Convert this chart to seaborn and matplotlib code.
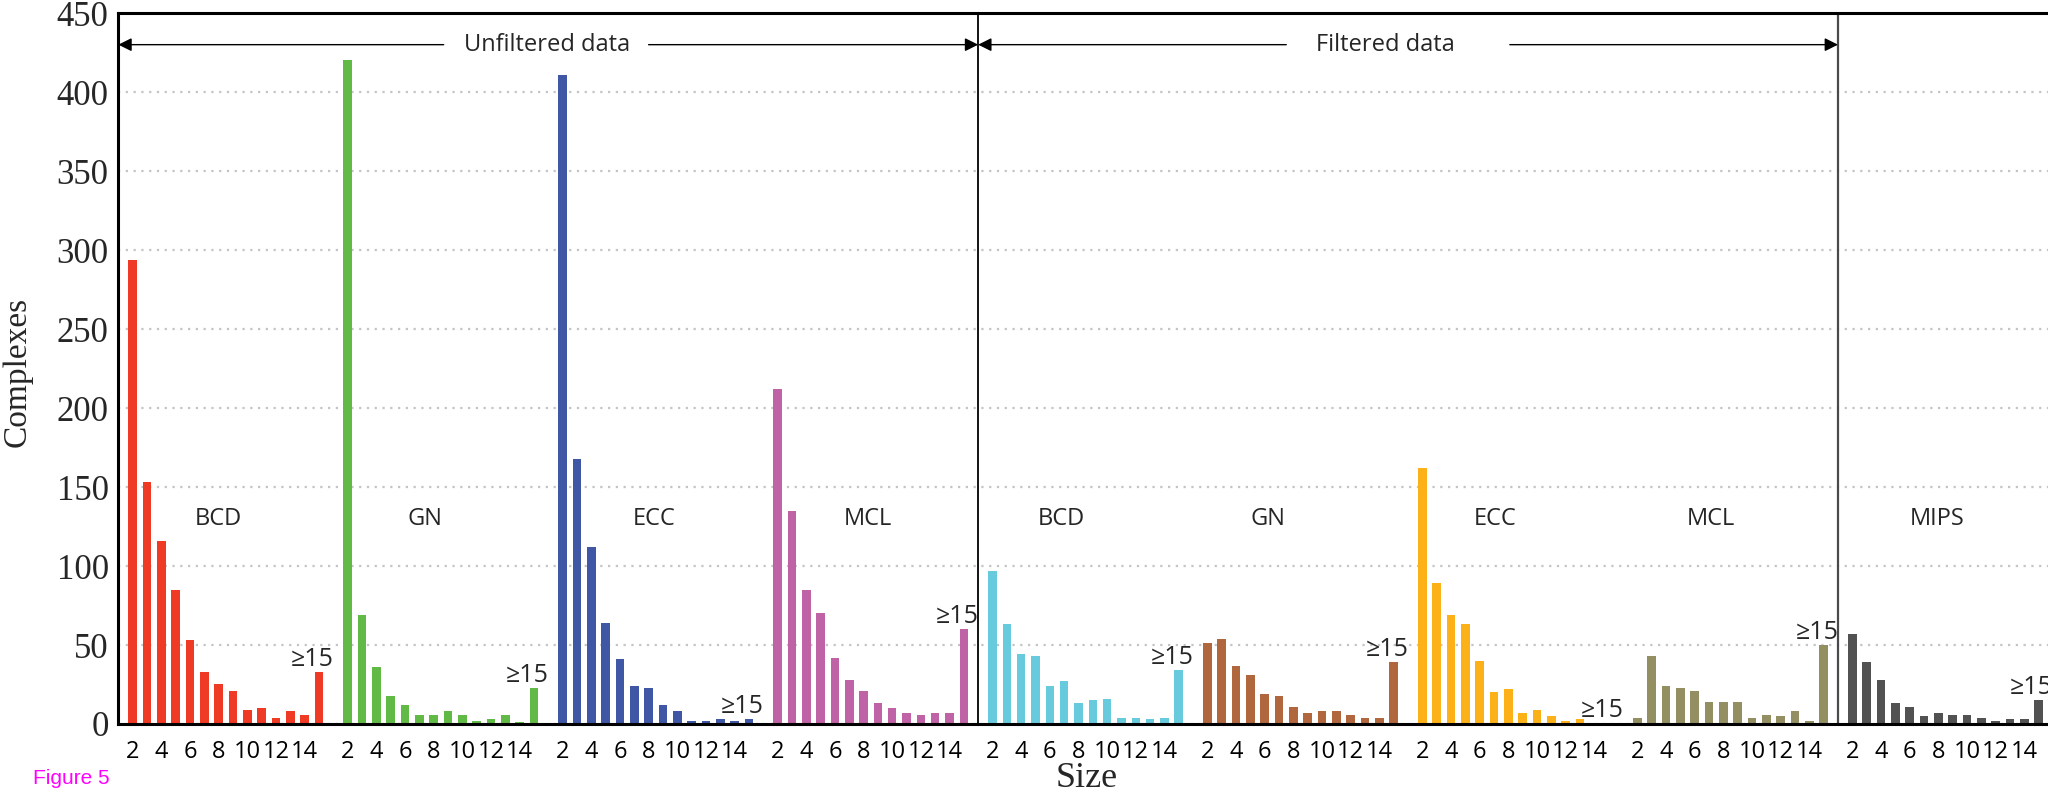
import pandas as pd
import matplotlib
matplotlib.use("Agg")
import matplotlib.pyplot as plt
import seaborn as sns

# Data: number of complexes by size (2..14, last bar = ">=15")
sizes = list(range(2, 16))
group_keys = ["BCD_u", "GN_u", "ECC_u", "MCL_u", "BCD_f", "GN_f", "ECC_f", "MCL_f", "MIPS"]
group_names = ["BCD", "GN", "ECC", "MCL", "BCD", "GN", "ECC", "MCL", "MIPS"]

bcd_unf = [294, 153, 116, 85, 53, 33, 25, 21, 9, 10, 4, 8, 6, 33]
gn_unf = [420, 69, 36, 18, 12, 6, 6, 8, 6, 2, 3, 6, 1, 23]
ecc_unf = [411, 168, 112, 64, 41, 24, 23, 12, 8, 2, 2, 3, 2, 3]
mcl_unf = [212, 135, 85, 70, 42, 28, 21, 13, 10, 7, 6, 7, 7, 60]
bcd_filt = [97, 63, 44, 43, 24, 27, 13, 15, 16, 4, 4, 3, 4, 34]
gn_filt = [51, 54, 37, 31, 19, 18, 11, 7, 8, 8, 6, 4, 4, 39]
ecc_filt = [162, 89, 69, 63, 40, 20, 22, 7, 9, 5, 2, 3, 0.5, 0.5]
mcl_filt = [4, 43, 24, 23, 21, 14, 14, 14, 4, 6, 5, 8, 2, 50]
mips = [57, 39, 28, 13, 11, 5, 7, 6, 6, 4, 2, 3, 3, 15]
series = [bcd_unf, gn_unf, ecc_unf, mcl_unf, bcd_filt, gn_filt, ecc_filt, mcl_filt, mips]

colors = ["#EF3A26", "#62BA46", "#3F57A5", "#C063A6", "#68CADD",
          "#B0673D", "#FDB119", "#948F63", "#525252"]

# Layout constants
step = len(sizes) + 1          # one empty slot between groups
label_offset = [5.95, 5.4, 6.4, 6.3, 4.8, 4.2, 5.1, 5.1, 5.9]

sns.set_style("white")
plt.rcParams["font.family"] = ["Open Sans", "DejaVu Sans"]

rows = []
for g, (key, vals) in enumerate(zip(group_keys, series)):
    for s, v in zip(sizes, vals):
        rows.append({"group": key, "pos": g * step + s - 2, "count": v})
df = pd.DataFrame(rows)

fig = plt.figure(figsize=(20.48, 7.97), dpi=100)
ax = fig.add_axes([0.0578, 0.0916, 0.9586, 0.892])

sns.barplot(data=df, x="pos", y="count", hue="group", palette=dict(zip(group_keys, colors)),
            native_scale=True, width=0.6, dodge=False, legend=False, saturation=1,
            errorbar=None, linewidth=0, ax=ax)

ax.set_xlim(-1, 136)
ax.set_ylim(0, 450)

# grid + spines
ax.set_axisbelow(True)
ax.yaxis.grid(True, linestyle=(0, (1, 2.5)), color="#c4c4c4", linewidth=1.6)
ax.xaxis.grid(False)
for side in ["left", "top", "bottom"]:
    ax.spines[side].set_color("black")
    ax.spines[side].set_linewidth(2.2)
ax.spines["right"].set_visible(False)

# ticks
ticks, ticklabels = [], []
for g in range(len(group_keys)):
    for s in range(2, 15, 2):
        ticks.append(g * step + s - 2)
        ticklabels.append(str(s))
ax.set_xticks(ticks)
ax.set_xticklabels(ticklabels, fontsize=17)
ax.tick_params(axis="x", direction="out", length=8.5, width=1.8, pad=3, colors="black")
ax.set_yticks(range(0, 451, 50))
ax.set_yticklabels([str(v) for v in range(0, 451, 50)], fontsize=25, family="Liberation Serif")
ax.tick_params(axis="y", length=0, pad=7)

ax.set_xlabel("Size", fontsize=26, family="Liberation Serif")
ax.xaxis.set_label_coords(0.4934, -0.053)
ax.set_ylabel("Complexes", fontsize=24, family="Liberation Serif")
ax.yaxis.set_label_coords(-0.0435, 0.495)

# separators between unfiltered / filtered / MIPS
ax.axvline(4 * step - 1, color="black", lw=1.3)
ax.axvline(8 * step - 1, color="#4a4a4a", lw=1.6)

# group labels and ">=15" labels
for g, (name, vals) in enumerate(zip(group_names, series)):
    ax.text(g * step + label_offset[g], 130, name, ha="center", va="center", fontsize=17)
    last = g * step + len(sizes) - 1
    ax.annotate("≥15", (last, vals[-1]), xytext=(-5, 9), textcoords="offset points",
                ha="center", va="center", fontsize=18, family=["Open Sans", "DejaVu Sans"])

# arrows at top
arrow_kw = dict(arrowstyle="-|>", color="black", lw=1.0, mutation_scale=20, shrinkA=0, shrinkB=0)
ax.annotate("", xy=(-1, 430), xytext=(21.7, 430), arrowprops=arrow_kw)
ax.annotate("", xy=(4 * step - 1, 430), xytext=(36.0, 430), arrowprops=arrow_kw)
ax.annotate("", xy=(4 * step - 1, 430), xytext=(80.5, 430), arrowprops=arrow_kw)
ax.annotate("", xy=(8 * step - 1, 430), xytext=(96.1, 430), arrowprops=arrow_kw)
ax.text(28.95, 430, "Unfiltered data", ha="center", va="center", fontsize=17)
ax.text(87.4, 430, "Filtered data", ha="center", va="center", fontsize=17)

fig.text(33 / 2048, 0.0238, "Figure 5", color="#FF00FF", fontsize=15,
         family="Liberation Sans", ha="left", va="center")

fig.savefig("out.png", dpi=100)
